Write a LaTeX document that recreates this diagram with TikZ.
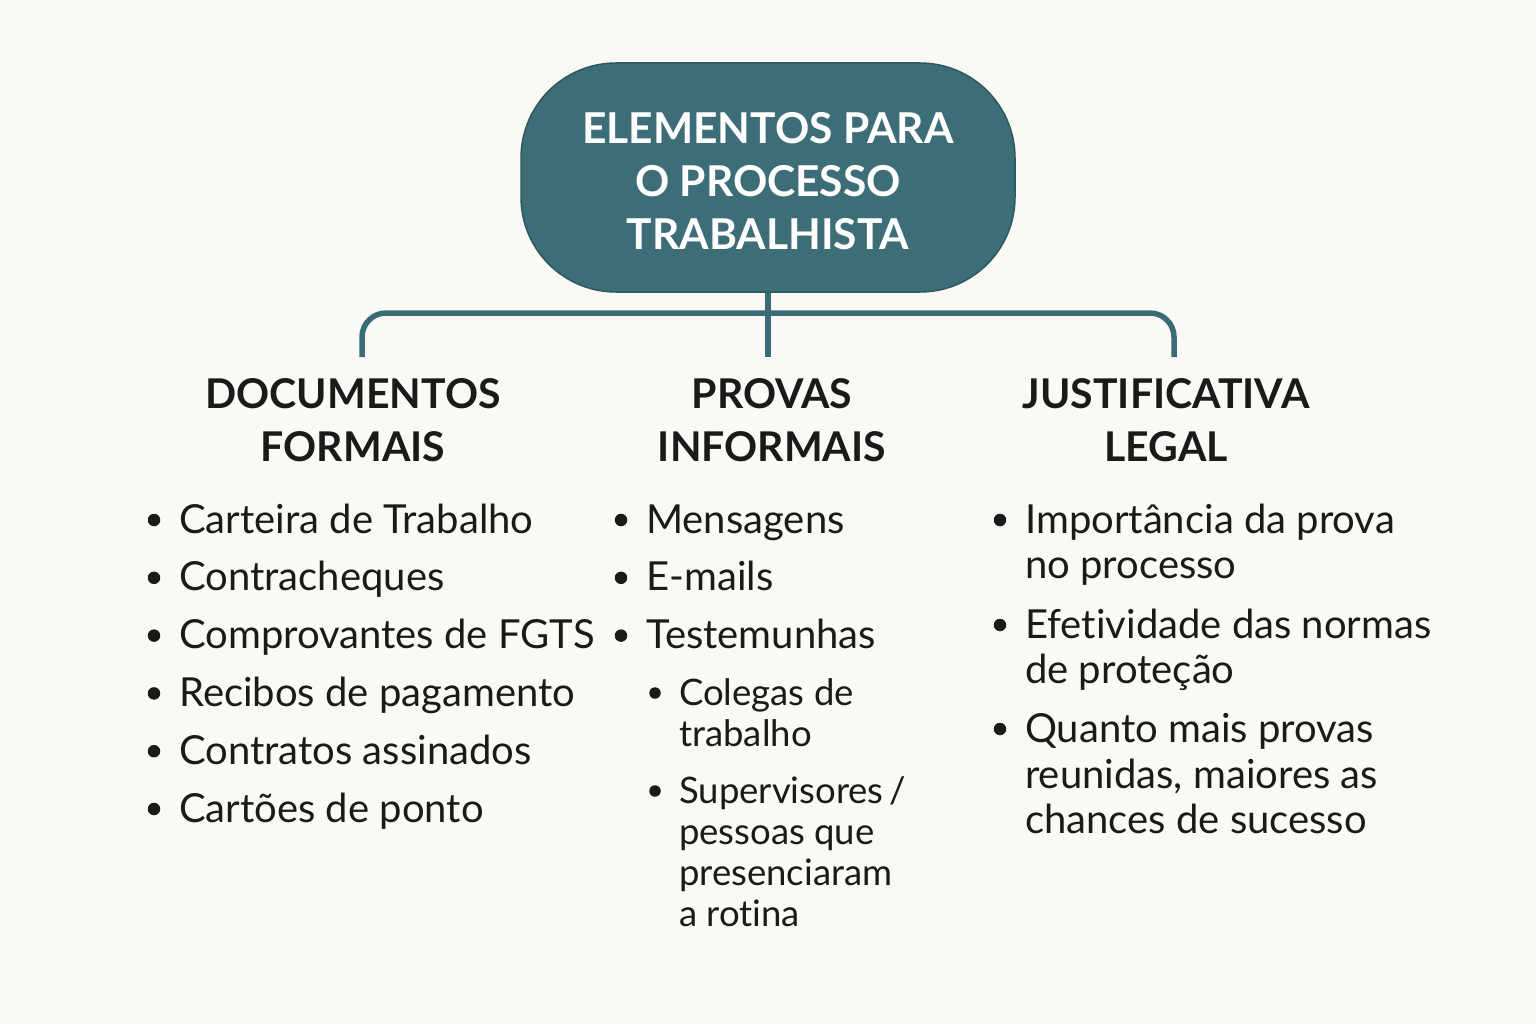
\documentclass[tikz,border=0pt]{standalone}
\usepackage{fontspec}
\setmainfont{Lato}[Ligatures={NoCommon,NoRare}]
\usetikzlibrary{positioning}

\definecolor{paper}{HTML}{FAF9F5}
\definecolor{boxfill}{HTML}{3D6E77}
\definecolor{boxline}{HTML}{2C5960}
\definecolor{branchcol}{HTML}{3B6C75}
\definecolor{ink}{HTML}{1A1A1A}

\tikzstyle{rootbox} = [draw=boxline,line width=1.5pt,fill=boxfill,rounded corners=95pt,
  minimum width=494pt,minimum height=229pt,align=center,text=white,
  font=\fontsize{42.5}{53}\selectfont\bfseries]
\tikzstyle{heading} = [align=center,text=ink,font=\fontsize{41}{53}\selectfont\bfseries]
\tikzstyle{entry} = [anchor=base west,inner sep=0pt,text=ink,font=\fontsize{40}{46}\selectfont]
\tikzstyle{subentry} = [entry,font=\fontsize{36.5}{41}\selectfont]
\tikzstyle{bullet} = [circle,fill=ink,inner sep=0pt,minimum size=12.5pt]
\tikzstyle{branch} = [draw=branchcol,line width=5.5pt,rounded corners=24pt]

\begin{document}
\begin{tikzpicture}[x=1pt,y=-1pt]
   \fill[paper] (0,0) rectangle (1536,1024);
   \useasboundingbox (0,0) rectangle (1536,1024);

   \node[rootbox] (root) at (768,177.5) {\rule{0pt}{39pt}ELEMENTOS PARA\\O PROCESSO\\TRABALHISTA};

   \node[heading] (formal) at (353,420) {DOCUMENTOS\\FORMAIS};
   \node[heading] (informal) at (772,420) {PROVAS\\INFORMAIS};
   \node[heading] (legal) at (1166,420) {JUSTIFICATIVA\\LEGAL};

   \coordinate (bar) at (768,313);
   \coordinate (formaltop) at (362,357);
   \coordinate (informaltop) at (768,357);
   \coordinate (legaltop) at (1174,357);

   \path[branch] (root.south) -- (informaltop);
   \path[branch] (formaltop) |- (bar) -| (legaltop);

   % documentos formais
   \foreach \txt [count=\i] in {Carteira de Trabalho,Contracheques,Comprovantes de FGTS,
       Recibos de pagamento,Contratos assinados,Cartões de ponto} {
     \node[bullet] (fdot\i) at (154,{520+57.8*(\i-1)}) {};
     \node[entry] (fitem\i) at (179,{533+57.8*(\i-1)}) {\txt};
   }

   % provas informais
   \foreach \txt [count=\i] in {Mensagens,E-mails,Testemunhas} {
     \node[bullet] (idot\i) at (621,{520+57.8*(\i-1)}) {};
     \node[entry] (iitem\i) at (646,{533+57.8*(\i-1)}) {\txt};
   }
   \node[bullet,minimum size=11.5pt] (isubdot1) at (655,693) {};
   \node[subentry] (isub1a) at (679,705) {Colegas de};
   \node[subentry] (isub1b) at (679,746) {trabalho};
   \node[bullet,minimum size=11.5pt] (isubdot2) at (655,791) {};
   \node[subentry] (isub2a) at (679,803.5) {Supervisores\,/};
   \node[subentry] (isub2b) at (679,844.5) {pessoas que};
   \node[subentry] (isub2c) at (679,885.5) {presenciaram};
   \node[subentry] (isub2d) at (679,926.5) {a rotina};

   % justificativa legal
   \node[bullet] (ldot1) at (1000,520) {};
   \node[entry] (litem1a) at (1025,533) {Importância da prova};
   \node[entry] (litem1b) at (1025,578) {no processo};
   \node[bullet] (ldot2) at (1000,625) {};
   \node[entry] (litem2a) at (1025,638) {Efetividade das normas};
   \node[entry] (litem2b) at (1025,683) {de proteção};
   \node[bullet] (ldot3) at (1000,729) {};
   \node[entry] (litem3a) at (1025,742) {Quanto mais provas};
   \node[entry] (litem3b) at (1025,788) {reunidas, maiores as};
   \node[entry] (litem3c) at (1025,833) {chances de sucesso};

\end{tikzpicture}
\end{document}
